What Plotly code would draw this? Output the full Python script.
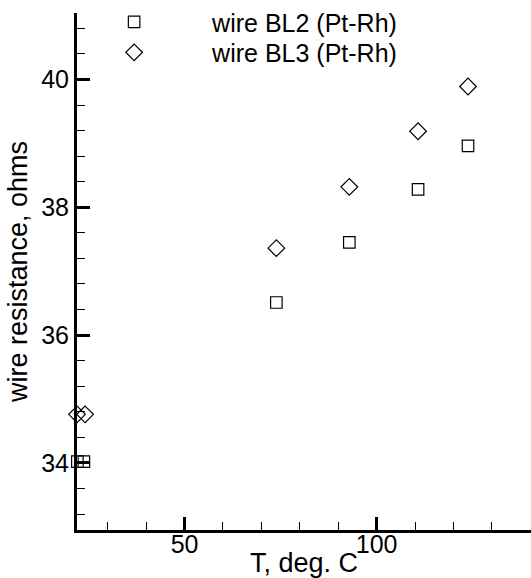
import plotly.graph_objects as go

# Data
t_bl2 = [22.1, 23.8, 73.9, 92.9, 110.8, 123.8]
r_bl2 = [34.02, 34.02, 36.51, 37.45, 38.28, 38.96]
t_bl3 = [22.0, 24.1, 73.9, 92.9, 110.8, 123.8]
r_bl3 = [34.76, 34.76, 37.36, 38.32, 39.19, 39.89]

FONT = "Liberation Sans, Arial, sans-serif"

fig = go.Figure()
fig.add_trace(go.Scatter(
    x=t_bl2, y=r_bl2, mode="markers", name="wire BL2 (Pt-Rh)",
    marker=dict(symbol="square-open", size=11.5, color="black", line=dict(width=1.2, color="black")),
    cliponaxis=False, legend="legend",
))
fig.add_trace(go.Scatter(
    x=t_bl3, y=r_bl3, mode="markers", name="wire BL3 (Pt-Rh)",
    marker=dict(symbol="diamond-open", size=12.8, color="black", line=dict(width=1.2, color="black")),
    cliponaxis=False, legend="legend2",
))

axis_common = dict(
    showgrid=False, zeroline=False, showline=True, linecolor="black", linewidth=3,
    ticks="inside", ticklen=13, tickwidth=2.5, tickcolor="black",
    tickfont=dict(family=FONT, size=25, color="black"),
    mirror=False, automargin=False,
)

legend_common = dict(
    xanchor="left", yanchor="top",
    bgcolor="rgba(0,0,0,0)", borderwidth=0,
    font=dict(family=FONT, size=25, color="black"),
    itemwidth=146,
)

fig.update_layout(
    width=531, height=578,
    margin=dict(l=77, r=0, t=13, b=48, autoexpand=False),
    paper_bgcolor="white", plot_bgcolor="white",
    font=dict(family=FONT, size=25, color="black"),
    xaxis=dict(
        range=[22, 140.2], tick0=0, dtick=50,
        minor=dict(ticks="inside", ticklen=8, tickwidth=1.2, tickcolor="black", dtick=10, tick0=0),
        title=dict(text="T, deg. C", font=dict(family=FONT, size=27, color="black"), standoff=0),
        ticklabelstandoff=-10,
        **axis_common,
    ),
    yaxis=dict(
        range=[32.95, 41.04], tick0=0, dtick=2,
        minor=dict(ticks="inside", ticklen=8, tickwidth=1.2, tickcolor="black", dtick=0.4, tick0=0),
        title=dict(text="wire resistance, ohms", font=dict(family=FONT, size=27, color="black"), standoff=6),
        **axis_common,
    ),
    legend=dict(x=-0.046, y=1.027, **legend_common),
    legend2=dict(x=-0.046, y=0.968, **legend_common),
    showlegend=True,
)

fig.write_html("out.html")
